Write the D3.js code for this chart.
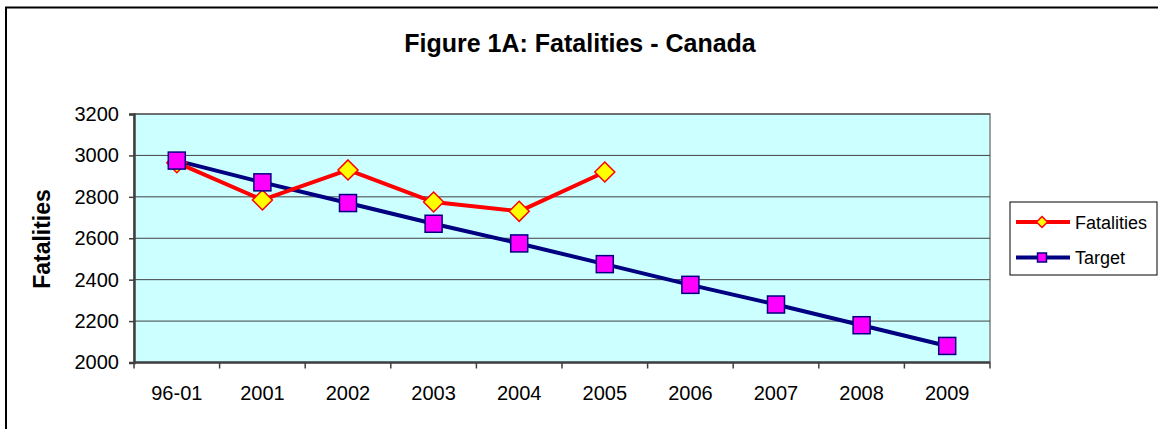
<!DOCTYPE html>
<html>
<head>
<meta charset="utf-8">
<script src="https://cdn.jsdelivr.net/npm/d3@7"></script>
<style>
  body { margin: 0; background: #fff; }
  text { font-family: "Liberation Sans", Arial, sans-serif; fill: #000; }
</style>
</head>
<body>
<script>
"use strict";

// Chart data
let categories = ["96-01", "2001", "2002", "2003", "2004", "2005", "2006", "2007", "2008", "2009"];
let fatalities = [2965, 2785, 2930, 2775, 2730, 2920];
let target = [2975, 2870, 2770, 2670, 2575, 2475, 2375, 2280, 2180, 2080];
let yTicks = [2000, 2200, 2400, 2600, 2800, 3000, 3200];

let w = 1158, h = 429;
let plot = {left: 134, right: 990, top: 114, bottom: 362.5};

let svg = d3.select("body").append("svg")
    .attr("width", w)
    .attr("height", h);

// outer chart frame (right/bottom edges sit off-screen)
svg.append("rect")
    .attr("x", 6).attr("y", 7.5)
    .attr("width", 1200).attr("height", 500)
    .attr("fill", "#fff")
    .attr("stroke", "#000")
    .attr("stroke-width", 2);

let x = d3.scaleBand().domain(categories).range([plot.left, plot.right]);
let y = d3.scaleLinear().domain([2000, 3200]).range([plot.bottom, plot.top]);

// plot background
svg.append("rect")
    .attr("x", plot.left).attr("y", plot.top)
    .attr("width", plot.right - plot.left)
    .attr("height", plot.bottom - plot.top)
    .attr("fill", "#CCFFFF")
    .attr("stroke", "#808080")
    .attr("stroke-width", 1.5);

// gridlines
svg.append("g")
    .selectAll("line")
    .data(yTicks.slice(1))
    .enter().append("line")
    .attr("x1", plot.left).attr("x2", plot.right)
    .attr("y1", d => y(d)).attr("y2", d => y(d))
    .attr("stroke", "#404040")
    .attr("stroke-width", 1);

// y axis
let yAxis = svg.append("g")
    .attr("transform", `translate(${plot.left},0)`)
    .call(d3.axisLeft(y).tickValues(yTicks).tickFormat(d3.format("d")).tickSize(5).tickPadding(10));
yAxis.select(".domain").attr("stroke", "#404040").attr("stroke-width", 2.5);
yAxis.selectAll(".tick line").attr("stroke", "#404040").attr("stroke-width", 1.5);
yAxis.selectAll("text")
    .style("font-family", "'Liberation Sans', Arial, sans-serif")
    .style("font-size", "20px")
    .attr("fill", "#000");

// x axis: ticks on category boundaries, labels at band centres
let xAxis = svg.append("g")
    .attr("transform", `translate(0,${plot.bottom})`);
xAxis.append("line")
    .attr("x1", plot.left).attr("x2", plot.right)
    .attr("stroke", "#404040").attr("stroke-width", 2.5);
let bounds = categories.map(c => x(c)).concat([plot.right]);
xAxis.selectAll(".xt")
    .data(bounds)
    .enter().append("line")
    .attr("class", "xt")
    .attr("x1", d => d).attr("x2", d => d)
    .attr("y1", 0).attr("y2", 6)
    .attr("stroke", "#404040").attr("stroke-width", 1.5);
xAxis.selectAll("text")
    .data(categories)
    .enter().append("text")
    .attr("x", d => x(d) + x.bandwidth() / 2)
    .attr("y", 37)
    .attr("text-anchor", "middle")
    .style("font-size", "20px")
    .text(d => d);

// lines
let line = d3.line()
    .x((d, i) => x(categories[i]) + x.bandwidth() / 2)
    .y(d => y(d));

svg.append("path")
    .datum(target)
    .attr("d", line)
    .attr("fill", "none")
    .attr("stroke", "#000080")
    .attr("stroke-width", 4)
    .attr("stroke-linejoin", "round");

svg.append("path")
    .datum(fatalities)
    .attr("d", line)
    .attr("fill", "none")
    .attr("stroke", "#FF0000")
    .attr("stroke-width", 4)
    .attr("stroke-linejoin", "round");

// markers
let diamond = s => `M0,${-s}L${s},0L0,${s}L${-s},0Z`;

svg.append("g")
    .selectAll("path")
    .data(fatalities)
    .enter().append("path")
    .attr("transform", (d, i) => `translate(${x(categories[i]) + x.bandwidth() / 2},${y(d)})`)
    .attr("d", diamond(10))
    .attr("fill", "#FFFF00")
    .attr("stroke", "#FF0000")
    .attr("stroke-width", 1.5);

svg.append("g")
    .selectAll("rect")
    .data(target)
    .enter().append("rect")
    .attr("x", (d, i) => x(categories[i]) + x.bandwidth() / 2 - 8.5)
    .attr("y", d => y(d) - 8.5)
    .attr("width", 17).attr("height", 17)
    .attr("fill", "#FF00FF")
    .attr("stroke", "#000080")
    .attr("stroke-width", 1.5);

// title
svg.append("text")
    .attr("x", 580).attr("y", 52)
    .attr("text-anchor", "middle")
    .style("font-size", "25px")
    .style("font-weight", "bold")
    .text("Figure 1A: Fatalities - Canada");

// y axis title
svg.append("text")
    .attr("transform", "translate(50,239) rotate(-90)")
    .attr("text-anchor", "middle")
    .style("font-size", "23px")
    .style("font-weight", "bold")
    .text("Fatalities");

// legend
let legend = svg.append("g");
legend.append("rect")
    .attr("x", 1010).attr("y", 202)
    .attr("width", 147).attr("height", 73)
    .attr("fill", "#fff")
    .attr("stroke", "#000")
    .attr("stroke-width", 1);

let legendItems = [
    {name: "Fatalities", color: "#FF0000", fill: "#FFFF00", shape: "diamond"},
    {name: "Target", color: "#000080", fill: "#FF00FF", shape: "square"}
];
legendItems.forEach((item, i) => {
    let ly = 222 + i * 35.5;
    legend.append("line")
        .attr("x1", 1016).attr("x2", 1070)
        .attr("y1", ly).attr("y2", ly)
        .attr("stroke", item.color)
        .attr("stroke-width", 4);
    if (item.shape === "diamond") {
        legend.append("path")
            .attr("transform", `translate(1042,${ly})`)
            .attr("d", diamond(5.5))
            .attr("fill", item.fill)
            .attr("stroke", item.color)
            .attr("stroke-width", 1.5);
    } else {
        legend.append("rect")
            .attr("x", 1037.5).attr("y", ly - 4.5)
            .attr("width", 9).attr("height", 9)
            .attr("fill", item.fill)
            .attr("stroke", item.color)
            .attr("stroke-width", 1.5);
    }
    legend.append("text")
        .attr("x", 1075).attr("y", ly + 6.5)
        .style("font-size", "18px")
        .text(item.name);
});
</script>
</body>
</html>
